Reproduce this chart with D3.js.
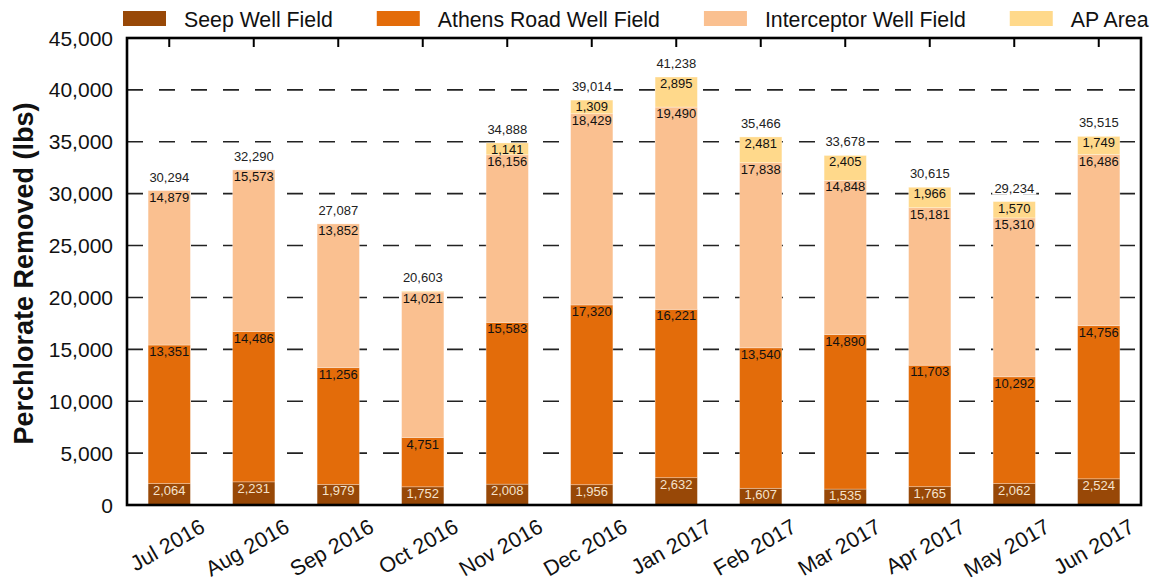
<!DOCTYPE html>
<html>
<head>
<meta charset="utf-8">
<script src="https://cdn.jsdelivr.net/npm/d3@7/dist/d3.min.js"></script>
<style>
  html, body { margin: 0; padding: 0; background: #fff; }
  svg { display: block; font-family: "Liberation Sans", Arial, sans-serif; }
</style>
</head>
<body>
<svg id="chart" width="1150" height="580"></svg>
<script>
// Monthly perchlorate removal by well field (lbs)
const months = ["Jul 2016", "Aug 2016", "Sep 2016", "Oct 2016", "Nov 2016", "Dec 2016",
                "Jan 2017", "Feb 2017", "Mar 2017", "Apr 2017", "May 2017", "Jun 2017"];
const seepWellField =        [2064, 2231, 1979, 1752, 2008, 1956, 2632, 1607, 1535, 1765, 2062, 2524];
const athensRoadWellField =  [13351, 14486, 11256, 4751, 15583, 17320, 16221, 13540, 14890, 11703, 10292, 14756];
const interceptorWellField = [14879, 15573, 13852, 14021, 16156, 18429, 19490, 17838, 14848, 15181, 15310, 16486];
const apArea =               [0, 0, 0, 79, 1141, 1309, 2895, 2481, 2405, 1966, 1570, 1749];
const seriesNames = ["Seep Well Field", "Athens Road Well Field", "Interceptor Well Field", "AP Area"];
const yTickValues = [0, 5000, 10000, 15000, 20000, 25000, 30000, 35000, 40000, 45000];

const seriesKeys = ["seep", "athens", "interceptor", "ap"];
const colors = { seep: "#984807", athens: "#e36c0a", interceptor: "#fac090", ap: "#ffd98b" };
const labelColors = { seep: "#f6e3cc", athens: "#111", interceptor: "#111", ap: "#111" };

const rows = months.map((m, i) => ({
  month: m,
  seep: seepWellField[i],
  athens: athensRoadWellField[i],
  interceptor: interceptorWellField[i],
  ap: apArea[i]
}));
rows.forEach(r => { r.total = r.seep + r.athens + r.interceptor + r.ap; });

const svg = d3.select("#chart");
const plot = { left: 127, right: 1141, top: 38, bottom: 505 };

const x = d3.scaleBand()
  .domain(months)
  .range([plot.left, plot.right])
  .paddingInner(0.5)
  .paddingOuter(0.25);

const y = d3.scaleLinear()
  .domain([0, 45000])
  .range([plot.bottom, plot.top]);

const fmt = d3.format(",");

// dashed horizontal gridlines (behind the bars)
svg.append("g")
  .selectAll("line")
  .data(yTickValues.filter(v => v > 0 && v < 45000))
  .join("line")
  .attr("x1", plot.left).attr("x2", plot.right)
  .attr("y1", d => y(d)).attr("y2", d => y(d))
  .attr("stroke", "#222")
  .attr("stroke-width", 1.6)
  .attr("stroke-dasharray", "16,16");

// stacked bars
const stack = d3.stack().keys(seriesKeys)(rows);
const layers = svg.append("g")
  .selectAll("g")
  .data(stack)
  .join("g")
  .attr("fill", d => colors[d.key]);

layers.selectAll("rect")
  .data(d => d.filter(s => s[1] - s[0] > 0))
  .join("rect")
  .attr("x", d => x(d.data.month))
  .attr("width", x.bandwidth())
  .attr("y", d => y(d[1]))
  .attr("height", d => y(d[0]) - y(d[1]))
  .attr("stroke", "#fff")
  .attr("stroke-opacity", 0.35)
  .attr("stroke-width", 0.8);

// segment value labels, just inside the top of each segment
const labelGroup = svg.append("g")
  .attr("font-size", 13)
  .attr("text-anchor", "middle");
stack.forEach(layer => {
  labelGroup.selectAll(null)
    .data(layer.filter(s => s[1] - s[0] >= 500))
    .join("text")
    .attr("x", d => x(d.data.month) + x.bandwidth() / 2)
    .attr("y", d => y(d[1]) + 11)
    .attr("fill", labelColors[layer.key])
    .text(d => fmt(d[1] - d[0]));
});

// totals above each bar, on a white box that masks the gridlines
const totals = svg.append("g")
  .attr("font-size", 13)
  .attr("text-anchor", "middle")
  .selectAll("g")
  .data(rows)
  .join("g")
  .attr("transform", d => `translate(${x(d.month) + x.bandwidth() / 2},${y(d.total) - 9})`);
totals.append("rect")
  .attr("x", -22).attr("y", -11)
  .attr("width", 44).attr("height", 13)
  .attr("fill", "#fff");
totals.append("text")
  .attr("fill", "#222")
  .text(d => fmt(d.total));

// frame: left axis, bottom axis, top and right borders
svg.append("rect")
  .attr("x", plot.left).attr("y", plot.top)
  .attr("width", plot.right - plot.left)
  .attr("height", plot.bottom - plot.top)
  .attr("fill", "none")
  .attr("stroke", "#000")
  .attr("stroke-width", 2.6);

// small ticks hanging from the top border at each category
svg.append("g")
  .selectAll("line")
  .data(months)
  .join("line")
  .attr("x1", d => x(d) + x.bandwidth() / 2)
  .attr("x2", d => x(d) + x.bandwidth() / 2)
  .attr("y1", plot.top).attr("y2", plot.top + 9)
  .attr("stroke", "#000").attr("stroke-width", 2);

// y tick labels
svg.append("g")
  .attr("font-size", 21)
  .attr("fill", "#111")
  .attr("text-anchor", "end")
  .selectAll("text")
  .data(yTickValues)
  .join("text")
  .attr("x", plot.left - 14)
  .attr("y", d => y(d))
  .attr("dy", "0.36em")
  .text(d => fmt(d));

// x tick labels, rotated
svg.append("g")
  .attr("font-size", 21.5)
  .attr("fill", "#111")
  .attr("text-anchor", "end")
  .selectAll("text")
  .data(months)
  .join("text")
  .attr("transform", d => `translate(${x(d) + x.bandwidth() / 2 + 37},${plot.bottom + 26}) rotate(-30)`)
  .text(d => d);

// y axis title
svg.append("text")
  .attr("transform", `translate(33,${(plot.top + plot.bottom) / 2 + 2}) rotate(-90)`)
  .attr("text-anchor", "middle")
  .attr("font-size", 27)
  .attr("font-weight", "bold")
  .attr("fill", "#111")
  .text("Perchlorate Removed (lbs)");

// legend across the top
const legend = svg.append("g").attr("font-size", 21.3).attr("fill", "#111");
let lx = 123;
seriesKeys.forEach((k, i) => {
  legend.append("rect")
    .attr("x", lx).attr("y", 11)
    .attr("width", 43).attr("height", 15)
    .attr("fill", colors[k]);
  const t = legend.append("text")
    .attr("x", lx + 61).attr("y", 27)
    .text(seriesNames[i]);
  lx += 61 + t.node().getComputedTextLength() + 44;
});
</script>
</body>
</html>
